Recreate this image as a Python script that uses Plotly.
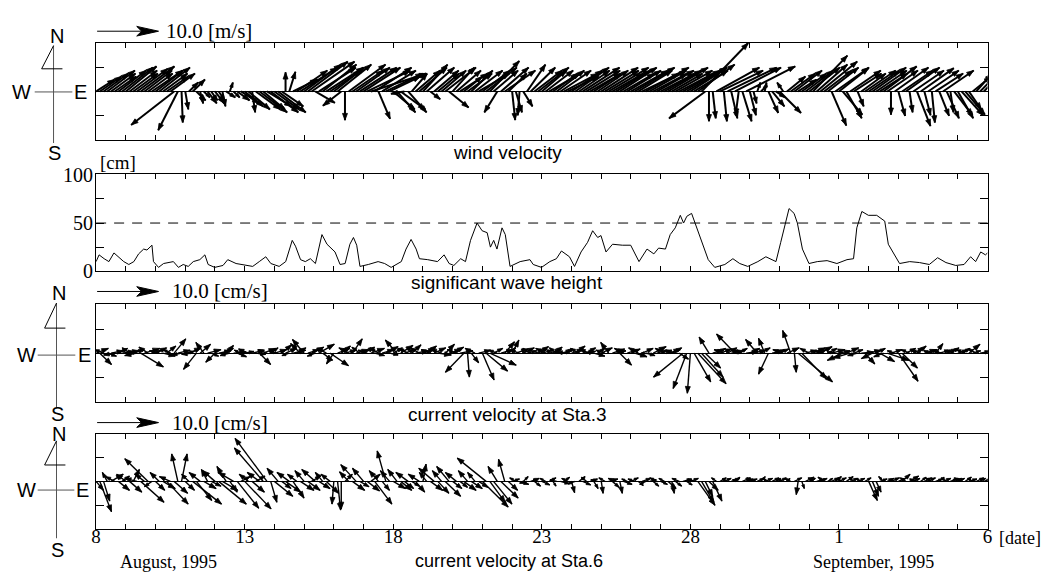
import math
import plotly.graph_objects as go

W, H = 1049, 583
def px(x): return x / W
def py(y): return 1 - y / H

# ------------------------------------------------------------------ data
date_labels = ["8", "13", "18", "23", "28", "1", "6"]
date_label_days = [0, 5, 10, 15, 20, 25, 30]
samples_per_day = 8          # 3-hourly vectors
scale_ref = 10.0             # reference arrow 10.0 [m/s] / [cm/s]
wave_threshold = 50

# wind velocity, east (u) / north (v) components [m/s]; one row = one day
wind_u = [
 3, 3.5, 4, 4.5, 4, 3.5, 4.5, 5,
 5, 4.5, 4, 5, 5.5, 4.5, 4, 5,
 4.5, 5, 4, 3.5, 4, -7, -3.2, 0.2,
 0.5, 1.5, 2, 1.5, 0.5, 1, 1.5, 1,
 1.5, 1, 0.5, 1.5, 0.5, 1, 2, 3,
 3, 3.5, 0.5, 4, 4.5, 3.5, 4, 4.5,
 4, 4.5, 3.5, 0, 1, 4, 5, 6,
 6, 6.5, 7, 3.2, 6, 5.5, 6, 5,
 5, 5.5, -3, 0, 6, 5, 5.5, 6,
 6, 7, 9, 6, 1.9, 5.5, 6, 5,
 3.5, 3, 4, -2.2, 3, 2.5, 4, 4.5,
 4, 4.5, 1.6, 4, 3.5, 4, 5, 3.2,
 3.5, 4, 4.5, 3, 4, 3.5, 4.5, 5,
 4.5, 5, 4.8, 4, -2.1, 4.5, 5, 3,
 0.5, 1, -0.3, 1.5, 3, 4, 4.5, 5,
 4, 4.5, 5, 4, 4.5, 5, 5.5, 5,
 5, 5.5, 5, 6, 5.5, 5, 4.5, 5,
 6, 5.5, 6.5, 5, 5.5, 6, 5, 5.5,
 6, 6.5, 5.5, 6, 7, 6, 5.5, 6,
 5.5, 6, 6.5, 5, 6, 5.5, 6, 6.5,
 6, 5.5, 6, 7.6, -5.9, 0, 0.5, 7,
 7, 0.5, 8, 1, 7.5, -0.5, 1.5, 8,
 1, 0.5, 0.5, 1, 0.3, 1.6, 2, 1.5,
 3.5, -1, 3, 4, 4.5, 3, 4, 4.5,
 5, 5.6, 5, 6, 4.5, 5, 2.4, 5.5,
 4.8, 3.2, 2.5, 5, 4.5, 1, 4, 5,
 5, 5.5, 5, 4.5, 5.4, 5, 0, 5.5,
 1.1, 5, 5.5, 0.5, 5, 2.2, 5.4, 1,
 5, 0.5, 4.5, 1.6, 5, 2, 0.5, 3,
 2.5, 3.5, 3.2, 2, 3, 2.5, 3.5, 3,
]
wind_v = [
 2, 2.5, 3, 3.5, 3, 2.5, 3.5, 4,
 4.2, 3.5, 3, 3.8, 4.2, 3.5, 3, 3.5,
 3.5, 4, 3, 2.5, 3, -5.6, -6.5, -5.2,
 -3, 1.5, 2, -1.5, -2, -1, -2, -1.5,
 -2, -1.5, -2.5, -1, 1.5, -1, -1.5, -2,
 -2.5, -3, -3.5, -3, -3.5, -3, -2.5, -3.5,
 -3, -3.5, -2.5, 3.2, 3.3, 2, 3.5, 4,
 4.5, 5, 5, -1.9, 4, 4.5, 4, 3.5,
 4, 4.5, -2.4, -4.8, 4.5, 3.5, 4, 4,
 4, 3.5, 3, 4, -4.6, 3.5, 3, 2.5,
 -3, -3.5, -3, -0.4, -3.5, 3, 3.5, 4,
 4.5, 4, -1.3, 3.5, 3, 3.5, 4, -2.7,
 4, 3.5, 3, 2.5, 3, 3.5, 3.5, 3,
 3.5, 4, 5.1, 3.5, -3.5, 4, 3.5, 3,
 -4.8, -3.5, -4, -2.5, 4.5, 4, 3.5, 4,
 3.5, 3.5, 3, 3, 3.5, 3.5, 3, 2.5,
 3.5, 4, 3.5, 4, 3.5, 3, 3, 3.5,
 4, 3.5, 4, 3, 3.5, 4, 3, 3.5,
 3.5, 4, 3.5, 3, 4, 3.5, 3, 3.5,
 3, 3.5, 4, 3, 3.5, 3, 3.5, 4,
 4, 3.5, 4.5, 8.1, -4.5, -5, -4.5, 4,
 3.5, -5, 4, -4.5, 4, -4, -5, 4.2,
 -4, -2, 1.5, 1, 1.5, -3.6, -2.5, -1,
 -3.6, 1.5, 2.5, 3, 3.5, 2, 3, 3.5,
 4, 6, 4.5, 5, 3.5, 4, -5.7, 4,
 3.9, -3.9, -4.5, 3.5, 3, -2.5, 3, 3.5,
 3.5, 4, 3.5, 3, 4.2, 3.5, -3.9, 4,
 -4.1, 3.5, 4, -3.5, 3.5, -5.8, 3.9, -4,
 3.5, -5.2, 3, -4.1, 3.5, -4.5, -3.5, -4,
 -4.5, -4, -3.9, -3, 2.5, 3, 3.7, 3.2,
]

# significant wave height [cm] read at (day, value) points
wave_day = [0.0, 0.1, 0.27, 0.43, 0.6, 0.77, 0.93, 1.1, 1.27, 1.43, 1.6, 1.71, 1.88,
            1.93, 2.1, 2.27, 2.6, 2.77, 2.93, 3.1, 3.27, 3.49, 3.66, 3.77, 3.99, 4.27,
            4.43, 4.71, 4.93, 5.27, 5.49, 5.71, 5.88, 6.16, 6.38, 6.6, 6.71, 6.88, 7.04,
            7.21, 7.38, 7.6, 7.77, 7.93, 8.04, 8.21, 8.38, 8.54, 8.66, 8.77, 8.88, 9.16,
            9.49, 9.71, 9.93, 10.27, 10.43, 10.6, 10.77, 10.88, 11.16, 11.49, 11.71,
            11.88, 12.04, 12.27, 12.43, 12.6, 12.82, 12.99, 13.16, 13.27, 13.38, 13.49,
            13.66, 13.77, 13.93, 14.27, 14.6, 14.71, 14.99, 15.27, 15.49, 15.66, 15.93,
            16.1, 16.32, 16.54, 16.71, 16.88, 16.99, 17.16, 17.38, 17.71, 17.99, 18.27,
            18.54, 18.77, 18.93, 19.16, 19.32, 19.49, 19.66, 19.77, 19.88, 20.04, 20.16,
            20.38, 20.6, 20.82, 21.16, 21.43, 21.66, 21.93, 22.27, 22.54, 22.88, 23.04,
            23.21, 23.32, 23.49, 23.6, 23.77, 23.99, 24.27, 24.6, 24.93, 25.27, 25.49,
            25.6, 25.77, 25.99, 26.27, 26.54, 26.66, 26.82, 27.04, 27.38, 27.71, 28.04,
            28.32, 28.6, 28.93, 29.21, 29.43, 29.6, 29.77, 29.93, 30.0]
wave_cm = [10, 17, 13, 10, 19, 14, 10, 7, 10, 18, 23, 22, 27,
           10, 4, 8, 10, 4, 7, 5, 10, 12, 17, 7, 4, 6,
           12, 8, 7, 5, 10, 15, 8, 5, 10, 32, 26, 12, 10,
           13, 8, 38, 28, 23, 20, 7, 8, 28, 35, 27, 5, 7,
           10, 8, 4, 10, 23, 33, 23, 13, 12, 10, 17,
           8, 6, 13, 10, 32, 50, 42, 40, 25, 32, 23,
           45, 38, 5, 10, 12, 7, 4, 10, 13, 21, 15,
           5, 20, 30, 42, 35, 37, 20, 28, 27, 27, 10,
           23, 18, 24, 23, 38, 45, 58, 50, 57, 60, 50,
           32, 12, 4, 7, 13, 8, 5, 10, 15, 10, 30,
           52, 65, 60, 50, 23, 8, 10, 11, 8, 12, 13,
           45, 62, 58, 58, 52, 28, 20, 8, 10, 9, 7,
           14, 9, 6, 7, 15, 10, 20, 17, 19]

# current velocity at Sta.3 [cm/s]
sta3_u = [
 2, 1.9, -1.5, 1.5, 2, -1.8, 1.5, 2,
 2.2, -1.2, 1.8, -2, 3.7, 2.5, -1.5, 1.6,
 1.8, -1.6, 2, 1.5, -1.2, 1.9, 2, -1.5,
 1.5, 2, -1.8, -2.1, 1.7, -1.3, 2.2, 1.2,
 -1.5, 2, 1.8, 1.2, -1.6, 2, 1.5, -1.1,
 1.5, -1.6, 2, 1.6, 1.8, 2, -1.4, 1.2,
 2, -1.5, 1.6, 1.8, -1.2, 2.1, 1.5, -1.6,
 -1.9, 1.8, 2, -1.3, 2.5, 1.6, -1.4, 3,
 -1.2, 2, 1.5, 1.8, -1.6, 1.6, 2, -1.3,
 1.8, -1.5, 2.2, 1.6, -1.4, 1.9, 2, 1.4,
 1.5, -1.9, 2, 1.8, -1.6, 1.5, 2.1, -1.4,
 2, 1.6, -1.5, 1.9, 2.2, -1.8, 1.5, 2,
 1.8, -1.5, 2.1, -3, 0.3, 1.2, -1.6, 2,
 1.9, 3.5, 4.3, 1.5, -1.4, 2, 1.6, 1.2,
 1.1, 2, -1.5, 1.8, 1.6, -1.3, 2, 1.7,
 1.8, -1.6, 2, 1.5, -1.2, 1.9, 1.4, -1.8,
 1.9, 1.6, -1.4, 2.1, 1.5, -1.7, 1.8, 1.2,
 1.8, -1.5, -1.3, 2, 1.6, 1.9, -1.5, 1.7,
 1.5, 2, -1.6, 1.8, 1.5, -1.8, 2.1, 1.6,
 1.8, -1.5, 2, 1.6, -1.4, 1.5, -4.8, -2.2,
 -0.5, 2.7, 4.6, 3.5, 2.5, -1.6, 1.8, 1.5,
 1.9, -1.6, 1.5, 2, -3, 1.4, -1.8, 2,
 1.6, 2, -1.9, 1.5, -1, -1.6, 1.8, 1.4,
 1.5, -1.7, 2, -1.3, 0.3, 5.6, 4, 1.8,
 -1.5, 2, 1.6, 1.9, -1.6, 1.5, 2.2, -1.3,
 1.8, -2.5, 2, -2.8, 1.5, -1.6, 2, 1.6,
 2, -1.8, 1.5, 2.4, -1.6, 3.5, 1.8, -1.2,
 3.2, 2.5, 1.6, -1.4, 1.8, 1.5, -1.6, 1.9,
 1.5, -1.3, 1.2, 1.8, -1.5, 1.6, 1.4, -1.2,
 1.6, 1.4, -1.5, 1.8, 1.3, -1.4, 1.6, 1.2,
]
sta3_v = [
 0.8, -1.9, 0.6, -0.5, 0.4, -0.3, 0.8, 0.3,
 0.4, 0.9, 0.6, -0.4, -2.3, 0.8, 1, 0.5,
 0.9, 0.4, -0.5, 1.2, 0.6, 2.4, 0.5, -0.3,
 0.3, 0.9, -0.2, -2.7, 1.5, 1.8, 0.6, -0.5,
 -1.5, 0.4, 0.8, 1.3, -0.4, 0.2, -0.6, 0.5,
 0.3, 0.7, 0.5, -0.2, -1.9, 0.8, 0.6, 0.9,
 0.6, 0.3, 1.4, 0.8, -0.4, 0.5, 0.9, 1.6,
 2.3, 0.6, 1, -0.5, 1.5, -1.2, 0.8, -2.1,
 -1.8, 0.8, 1.2, 0.5, 0.9, 2.4, 0.6, 1,
 1, 0.5, 0.8, -0.4, 0.9, 0.6, 1.1, -0.3,
 0.9, 2.2, 1.3, 0.6, 0.8, 1.4, 0.4, 0.9,
 0.8, 1.2, 0.6, 0.9, -0.3, 0.7, 1.5, 0.6,
 1, 0.6, 0.4, -3.2, -4, -1.6, 0.8, 0.5,
 -4.5, -3, -2, 0.8, 0.5, 0.6, 1.9, 0.9,
 2.2, 0.7, 0.5, 0.9, 0.4, 0.8, 0.6, 1.1,
 0.5, 0.8, 0.6, 1, 0.9, 0.4, 0.7, 0.2,
 0.6, 1.2, 0.8, 0.3, 0.9, 0.6, -0.5, 0.8,
 0.9, 0.5, 1.8, 0.7, 0.4, -2, 0.8, 0.6,
 0.7, -0.6, 0.9, 0.8, -0.4, -0.2, 1.1, 0.5,
 0.5, 0.8, 0.6, 0.9, 0.3, -1, -4, -5.9,
 -6.7, -4.8, -5.1, -4, -2.5, 2.7, 0.6, 0.8,
 0.7, 0.6, 0.9, 0.4, 3.2, 0.8, 0.5, 0.3,
 0.8, 0.5, 2.3, 0.9, 2.5, -3.5, 0.4, 0.6,
 0.7, 0.6, 0.9, 3.8, -3.2, -4.8, -4.3, 0.5,
 0.8, 0.9, 0.6, 1.1, 0.4, 0.8, 0.6, 0.2,
 0.4, -1.2, 0.9, -0.8, 0.6, -0.4, 0.2, -1.8,
 0.5, -0.9, 0.8, -1.4, -0.6, -1.2, 0.6, 0.4,
 -4.7, -2.5, 0.8, 0.6, 0.9, 1.2, 0.5, 0.6,
 0.6, 0.4, 1.6, 0.5, 0.3, 0.7, 0.9, 0.5,
 0.5, 0.8, 0.6, 1.5, 0.4, 0.7, 0.3, 0.5,
]

# current velocity at Sta.6 [cm/s]
sta6_u = [
 1.2, 1.9, 1, -0.8, 2, -1.5, 1.8, 1.2,
 -1.5, 2, 1, -2, 3.8, -1.5, -3.8, -1.2,
 1.5, -1.5, 2, 3.5, -1.8, 2.2, -1, 0.9,
 1.5, -1.2, 4.7, 2.5, -1.8, 2, -1, 1.6,
 -2, 4.5, 2.5, -1.5, 1.2, -2.5, 3.5, 1.5,
 4.3, -1.5, 2, 1.5, -2, -4.7, -5.2, 1,
 3, -1.8, 1.5, 2.5, -2, 1.8, -1.5, 2.2,
 -1.5, 2, 1.5, -2.2, 1.8, -1.2, 2, -1.5,
 -0.3, 0.5, 0, 1.2, -1.5, 2, -2.5, 1.5,
 -1.8, 2, 1.5, 2.8, -1.5, 1.2, -1.4, -1.5,
 2, -1.5, 1.8, 1.5, -2, 1.2, 1.5, -1.8,
 0.5, -1.2, 2, -2.5, 1.8, -1.5, 2.5, -2,
 1.5, -1.8, 1.2, 2, -1.5, 1.8, -1.2, 1.5,
 4.2, -4.7, 2.5, 3, -1.5, 2.8, -1, 1.5,
 1.2, -1, 1.5, 0.8, -1.2, 1.4, 1, -0.8,
 1.3, -0.9, 1.1, 0.5, -1.1, 1.5, 0.9, -1,
 0.5, -1.2, 1, 1.3, -0.8, 1.2, 0.7, -1.1,
 0.3, -1, 1.5, 1.1, -1.3, 0.4, 1.4, -0.9,
 1.2, -1.1, 0.8, 1.4, -1, 1.1, 0.9, -1.2,
 1.1, -0.9, 1.3, 0.4, 1, -1.2, 1.4, 0.9,
 1.3, -1, 2.8, 2, 1.2, 1.5, 1.5, -0.8,
 1, 1.2, -0.9, 1.4, 0.8, -1, 1.3, 1.1,
 1.2, -1.1, 1, 0.7, 1.3, -0.9, 1.1, 0.8,
 1.1, -0.9, 0.5, -1, 1.2, -0.3, 0.4, 1.4,
 1, -0.8, 1.3, 1.1, -1, 0.8, 1.2, 1,
 1.2, -1, 1.1, 1.3, -0.8, 1.2, -0.9, 1,
 1.4, 1, 0.8, 1.2, -0.8, 1.1, 1.4, -1,
 1, 1.3, -0.9, 1.5, 1.1, -1.2, 0.9, 1.2,
 1.2, -1, 1.1, 0.8, 1.3, -0.9, 1, 1.2,
 1.1, -1.2, 1, 1.3, -0.8, 1.2, 0.9, 1.1,
]
sta6_v = [
 -1.5, -5.1, -3.3, 1.5, 1.2, 0.8, -1.5, 0.9,
 1.2, -1.8, 2, 0.5, -3.5, 1.2, 3.8, -0.9,
 -1.5, 1.5, -1.2, -3.8, 0.8, -2, 4.6, 4.6,
 -1.5, 1.2, -3.8, -3.2, 1.5, -1.2, 2, -0.8,
 1.8, -3.8, -1.5, 2.5, -1.8, 1.5, -4.5, 0.8,
 -4.6, 1.2, -1.8, 0.9, 1.5, 5.6, 7.2, -3.5,
 -2.5, 2.2, -1.2, -1.8, 1.5, -2.8, 1.2, -1.5,
 1.8, -1.5, 0.9, 2, -1.2, 1.5, -2, 1.2,
 -3.8, -4.8, -4.6, 1.2, 1.6, -1.5, 2.8, -0.9,
 2.2, -1.6, 1.2, -3.8, 1.8, -1.5, 5.1, 1.8,
 -1.2, 2, -1.5, -1.2, 1.5, -0.8, -1.8, 1.2,
 2.9, 1.5, -1.5, 2.2, -2, 1.8, -2.5, 2.5,
 -1.2, 1.5, -1, -1.5, 1.8, -1.2, 1.5, -1,
 -4.3, 3.9, -3.5, -3.8, 2.5, -2.8, 3.7, -1.5,
 0.4, 0.6, -0.5, 0.8, -0.3, 0.5, -0.8, 0.4,
 -0.6, 0.5, 0.6, -0.8, 0.3, -0.4, 0.7, 0.5,
 -1.9, -0.4, 0.8, -0.6, 0.7, 0.4, -1.2, 0.3,
 -2, 0.6, 0.4, -1, 0.5, -2, -0.5, 0.4,
 0.6, 0.4, -0.7, 0.5, -0.5, 0.3, -0.8, 0.6,
 -0.5, 0.5, -1.2, -2, -0.8, 0.5, 0.4, -0.6,
 0.5, 0.4, -4, -3.5, -2.5, -1.5, -3.3, 0.6,
 0.6, 0.5, 0.4, 0.5, 0.7, 0.3, 0.6, 0.4,
 0.4, 0.6, 0.5, 0.8, 0.5, 0.4, 0.6, 0.5,
 0.6, 0.4, 0.5, 0.5, 0.6, -2.2, -1.2, 0.7,
 0.5, 0.6, 0.4, 0.5, 0.7, 0.5, 0.6, 0.8,
 0.6, 0.4, 0.8, 0.5, 0.7, 0.5, 0.5, 0.6,
 -3.2, -2.5, -1.8, 0.4, 0.8, 0.5, 0.6, 0.4,
 0.5, 1.2, 0.6, 0.9, 0.5, 0.4, 0.7, 0.6,
 0.6, 0.5, 0.4, 0.7, 0.5, 0.6, 0.4, 0.5,
 0.5, 0.6, 0.7, 0.4, 0.5, 0.6, 0.5, 0.4,
]

# ------------------------------------------------------------------ layout geometry (pixels)
X0, X1 = 92, 992
NDAYS = 30
PX_PER_DAY = (X1 - X0) / NDAYS
PX_PER_UNIT = 6.2            # 10.0 units -> 62 px reference arrow
panels = {
    "wind": (34, 135),
    "wave": (170, 271),
    "sta3": (305, 407),
    "sta6": (440, 538),
}

def stick_traces(u_list, v_list, xa, ya, lw):
    sx, sy, hx, hy = [], [], [], []
    for i, (u, v) in enumerate(zip(u_list, v_list)):
        t = i / samples_per_day
        dxp, dyp = u * PX_PER_UNIT, v * PX_PER_UNIT
        sx += [t, t + dxp / PX_PER_DAY, None]
        sy += [0, v, None]
        L = math.hypot(dxp, dyp)
        if L < 1e-6:
            continue
        ex, ey = dxp / L, dyp / L
        hl = min(7.0, 0.5 * L)
        hw = hl * 0.36
        bx, by = dxp - ex * hl, dyp - ey * hl
        pts = [(dxp, dyp), (bx - ey * hw, by + ex * hw), (bx + ey * hw, by - ex * hw), (dxp, dyp)]
        for (a, b) in pts:
            hx.append(t + a / PX_PER_DAY)
            hy.append(b / PX_PER_UNIT)
        hx.append(None); hy.append(None)
    return [
        go.Scatter(x=sx, y=sy, mode="lines", line=dict(color="black", width=lw),
                   xaxis=xa, yaxis=ya, hoverinfo="skip"),
        go.Scatter(x=hx, y=hy, mode="lines", fill="toself", fillcolor="black",
                   line=dict(color="black", width=0.8), xaxis=xa, yaxis=ya, hoverinfo="skip"),
    ]

fig = go.Figure()
for tr in stick_traces(wind_u, wind_v, "x", "y", 2.0):
    fig.add_trace(tr)
fig.add_trace(go.Scatter(x=wave_day, y=wave_cm, mode="lines", line=dict(color="black", width=1),
                         xaxis="x2", yaxis="y2", hoverinfo="skip"))
for tr in stick_traces(sta3_u, sta3_v, "x3", "y3", 1.4):
    fig.add_trace(tr)
for tr in stick_traces(sta6_u, sta6_v, "x4", "y4", 1.4):
    fig.add_trace(tr)

serif = "Liberation Serif, Times New Roman, serif"
sans = "Liberation Sans, Arial, sans-serif"

tickvals = list(range(NDAYS + 1))
ticktext = [date_labels[date_label_days.index(k)] if k in date_label_days else "" for k in tickvals]

def xaxis(anchor, labels):
    return dict(domain=[px(X0), px(X1)], range=[0, NDAYS], anchor=anchor,
                showline=True, linecolor="black", linewidth=1, mirror="ticks",
                ticks="inside", ticklen=5, tickcolor="black", tickwidth=1,
                tickvals=tickvals, ticktext=ticktext, showticklabels=labels,
                ticklabelstandoff=-9,
                tickfont=dict(family=serif, size=19, color="black"),
                showgrid=False, zeroline=False, fixedrange=True)

def yaxis_vec(name, anchor):
    top, bot = panels[name]
    half = (bot - top) / 2 / PX_PER_UNIT
    return dict(domain=[py(bot), py(top)], range=[-half, half], anchor=anchor,
                showline=True, linecolor="black", linewidth=1, mirror="ticks",
                ticks="inside", ticklen=8, tickcolor="black", tickvals=[-4, 4],
                showticklabels=False, showgrid=False,
                zeroline=True, zerolinecolor="black", zerolinewidth=1, fixedrange=True)

top, bot = panels["wave"]
fig.update_layout(
    width=W, height=H, margin=dict(l=0, r=0, t=0, b=0),
    paper_bgcolor="white", plot_bgcolor="white", showlegend=False,
    xaxis=xaxis("y", False), xaxis2=xaxis("y2", False),
    xaxis3=xaxis("y3", False), xaxis4=xaxis("y4", True),
    yaxis=yaxis_vec("wind", "x"),
    yaxis2=dict(domain=[py(bot), py(top)], range=[0, 101], anchor="x2",
                showline=True, linecolor="black", linewidth=1, mirror="ticks",
                ticks="inside", ticklen=8, tickcolor="black",
                tickvals=[0, 25, 50, 75, 100], ticktext=["0", "", "50", "", "100"],
                ticklabelstandoff=-2,
                tickfont=dict(family=serif, size=20, color="black"),
                showgrid=False, zeroline=False, fixedrange=True),
    yaxis3=yaxis_vec("sta3", "x3"),
    yaxis4=yaxis_vec("sta6", "x4"),
)

shapes = [dict(type="line", xref="x2 domain", yref="y2", x0=0, x1=1,
               y0=wave_threshold, y1=wave_threshold,
               line=dict(color="black", width=1, dash="10px,8px"))]
anns = []
def line(x0, y0, x1, y1, color="#555", width=1):
    shapes.append(dict(type="line", xref="paper", yref="paper", x0=px(x0), y0=py(y0),
                       x1=px(x1), y1=py(y1), line=dict(color=color, width=width)))
def text(x, y, s, family=sans, size=15, xanchor="center"):
    anns.append(dict(xref="paper", yref="paper", x=px(x), y=py(y), text=s, showarrow=False,
                     xanchor=xanchor, yanchor="middle", font=dict(family=family, size=size, color="black")))

# compass roses
def compass(xv, yN, yTop, yBot, yFlag, yWE, xW0, xW1, xWc, xEc, yS):
    line(xv, yTop, xv, yBot)
    line(xv, yTop, xv - 12, yFlag, color="black")
    line(xv - 12, yFlag, xv + 9, yFlag, color="black")
    line(xW0, yWE, xW1, yWE)
    text(xv + 3, yN, "N", size=20)
    text(xWc, yWE, "W", size=20)
    text(xEc, yWE, "E", size=20)
    text(xv + 1, yS, "S", size=20)

compass(49, 27, 37, 138, 61, 85, 30, 68, 17, 76, 148)
compass(52, 294, 304, 413, 330, 358, 33, 71, 22, 80, 419)
compass(52, 440, 447, 548, 472, 498, 33, 70, 22, 78, 560)

# reference arrows
def ref_arrow(y, label, tx):
    x0, x1 = 93, 93 + scale_ref * PX_PER_UNIT
    line(x0, y, x1 - 10, y, color="black")
    shapes.append(dict(type="path", xref="paper", yref="paper",
                       path=f"M {px(x1)},{py(y)} L {px(x1-22)},{py(y-5)} L {px(x1-17)},{py(y)} L {px(x1-22)},{py(y+5)} Z",
                       fillcolor="black", line=dict(color="black", width=1)))
    text(tx, y, label, family=serif, size=21, xanchor="left")

ref_arrow(22, "10.0 [m/s]", 161)
ref_arrow(292, "10.0 [cm/s]", 167)
ref_arrow(428, "10.0 [cm/s]", 167)

text(94, 158, "[cm]", family=serif, size=19, xanchor="left")
text(507, 148, "wind velocity", size=19)
text(507, 283, "significant wave height", size=19)
text(507, 420, "current velocity at Sta.3", size=19)
text(509, 572, "current velocity at Sta.6", size=18)
text(165, 573, "August, 1995", family=serif, size=18)
text(877, 573, "September, 1995", family=serif, size=18)
text(1002, 548, "[date]", family=serif, size=18, xanchor="left")

fig.update_layout(shapes=shapes, annotations=anns)
fig.write_html("out.html")
